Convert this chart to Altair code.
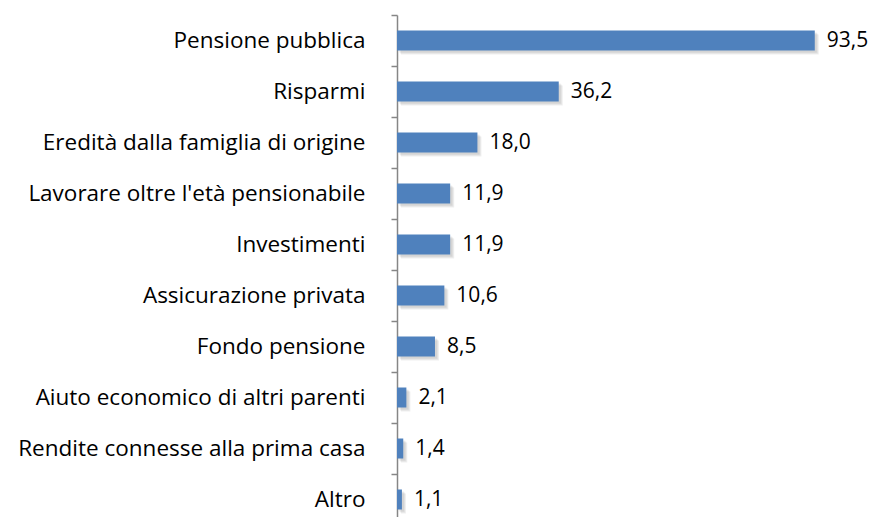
import altair as alt
import pandas as pd

categories = [
    "Pensione pubblica",
    "Risparmi",
    "Eredità dalla famiglia di origine",
    "Lavorare oltre l'età pensionabile",
    "Investimenti",
    "Assicurazione privata",
    "Fondo pensione",
    "Aiuto economico di altri parenti",
    "Rendite connesse alla prima casa",
    "Altro",
]
values = [93.5, 36.2, 18.0, 11.9, 11.9, 10.6, 8.5, 2.1, 1.4, 1.1]
labels = [f"{v:.1f}".replace(".", ",") for v in values]

df = pd.DataFrame({"cat": categories, "val": values, "lab": labels})

FONT = "Open Sans"
FS = 22.5
y_enc = alt.Y(
    "cat:N",
    sort=categories,
    title=None,
    scale=alt.Scale(paddingInner=0, paddingOuter=0, range=[0, 510]),
    axis=alt.Axis(
        domainColor="#868686",
        domainWidth=1.5,
        tickColor="#868686",
        tickWidth=1.5,
        tickSize=6,
        bandPosition=0,
        labelPadding=26,
        labelFont=FONT,
        labelFontSize=FS,
        labelColor="#000000",
        labelLimit=400,
        grid=False,
    ),
)
x_enc = alt.X("val:Q", scale=alt.Scale(domain=[0, 94]), axis=None)

base = alt.Chart(df)
shadows = [
    base.mark_bar(size=20, color="#7f7f7f", opacity=0.12, xOffset=o, yOffset=o).encode(
        y=y_enc, x=x_enc
    )
    for o in (2, 3, 4)
]
bars = base.mark_bar(size=20, color="#4F81BD").encode(y=y_enc, x=x_enc)
text = base.mark_text(
    align="left", baseline="middle", dx=12, font=FONT, fontSize=21, color="#000000"
).encode(y=y_enc, x=x_enc, text="lab:N")

chart = (
    alt.layer(*shadows, bars, text)
    .properties(
        width=420,
        height=502,
        autosize=alt.AutoSizeParams(type="none"),
        padding={"left": 389, "top": 7, "right": 53, "bottom": 0},
    )
    .configure_view(stroke=None)
)

chart.save("out.html", embed_options={"renderer": "svg", "actions": False})
